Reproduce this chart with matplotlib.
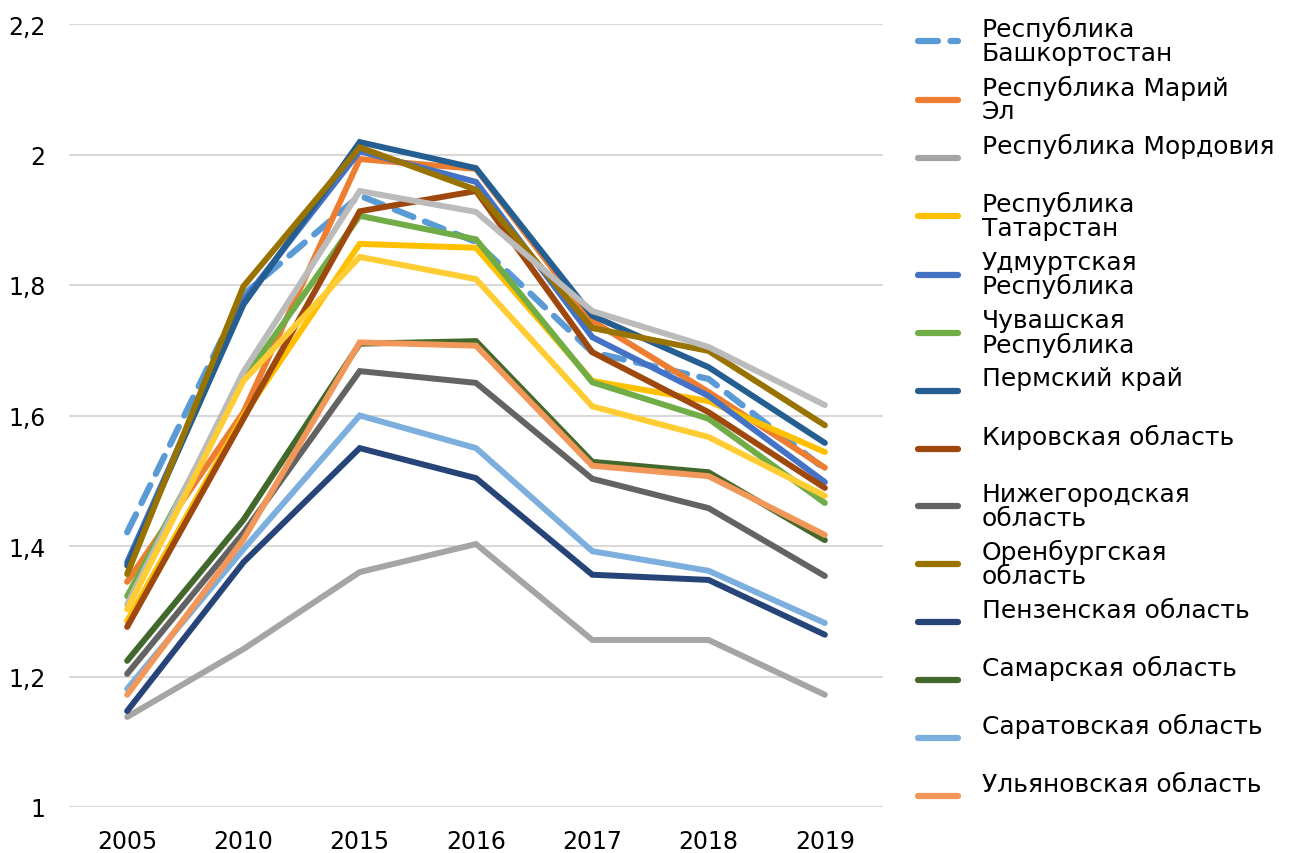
import matplotlib.pyplot as plt
from matplotlib.ticker import FuncFormatter

plt.rcParams["font.family"] = ["DejaVu Sans"]

years = ["2005", "2010", "2015", "2016", "2017", "2018", "2019"]

bashkortostan = [1.421, 1.785, 1.937, 1.866, 1.697, 1.656, 1.518]
mari_el = [1.345, 1.605, 1.993, 1.978, 1.745, 1.636, 1.520]
mordovia = [1.138, 1.242, 1.360, 1.403, 1.256, 1.256, 1.172]
tatarstan = [1.285, 1.600, 1.863, 1.857, 1.653, 1.622, 1.544]
udmurtia = [1.375, 1.776, 2.005, 1.958, 1.720, 1.630, 1.498]
chuvashia = [1.323, 1.655, 1.906, 1.870, 1.651, 1.595, 1.466]
perm = [1.370, 1.770, 2.019, 1.979, 1.753, 1.674, 1.558]
kirov = [1.276, 1.595, 1.913, 1.944, 1.697, 1.605, 1.489]
nizhny = [1.204, 1.420, 1.668, 1.650, 1.503, 1.458, 1.354]
orenburg = [1.357, 1.798, 2.011, 1.946, 1.734, 1.699, 1.585]
penza = [1.147, 1.375, 1.550, 1.504, 1.356, 1.348, 1.264]
samara = [1.224, 1.440, 1.710, 1.714, 1.529, 1.513, 1.409]
saratov = [1.181, 1.395, 1.600, 1.550, 1.392, 1.362, 1.282]
ulyanovsk = [1.172, 1.410, 1.712, 1.707, 1.523, 1.507, 1.417]
# two more series drawn on the chart but not listed in the legend
extra_gray = [1.310, 1.667, 1.944, 1.912, 1.760, 1.705, 1.616]
extra_yellow = [1.303, 1.653, 1.843, 1.809, 1.614, 1.567, 1.477]

labels = [
    "Республика\nБашкортостан",
    "Республика Марий\nЭл",
    "Республика Мордовия\n",
    "Республика\nТатарстан",
    "Удмуртская\nРеспублика",
    "Чувашская\nРеспублика",
    "Пермский край\n",
    "Кировская область\n",
    "Нижегородская\nобласть",
    "Оренбургская\nобласть",
    "Пензенская область\n",
    "Самарская область\n",
    "Саратовская область\n",
    "Ульяновская область\n",
    "_extra1",
    "_extra2",
]
series = [bashkortostan, mari_el, mordovia, tatarstan, udmurtia, chuvashia,
          perm, kirov, nizhny, orenburg, penza, samara, saratov, ulyanovsk,
          extra_gray, extra_yellow]
colors = ["#5B9BD5", "#ED7D31", "#A5A5A5", "#FFC000", "#4472C4", "#70AD47",
          "#255E91", "#9E480E", "#636363", "#997300", "#264478", "#43682B",
          "#7CAFDD", "#F1975A", "#BBBBBB", "#FFCD33"]

fig = plt.figure(figsize=(12.93, 8.54), dpi=100)
ax = fig.add_axes([69 / 1293, 1 - 808 / 854, (883 - 69) / 1293, (808 - 25) / 854])

x = range(len(years))
for vals, lab, col in zip(series, labels, colors):
    if lab.startswith("Республика\nБаш"):
        ax.plot(x, vals, color=col, lw=4.5, label=lab,
                dashes=(3.2, 2.0), dash_capstyle="round", solid_capstyle="round")
    else:
        ax.plot(x, vals, color=col, lw=4.3, label=lab,
                solid_capstyle="round", solid_joinstyle="miter")

ax.set_xlim(-0.5, 6.5)
ax.set_ylim(1, 2.2)
ax.set_xticks(list(x))
ax.set_xticklabels(years)
ax.set_yticks([1, 1.2, 1.4, 1.6, 1.8, 2.0, 2.2])
ax.yaxis.set_major_formatter(FuncFormatter(lambda v, p: f"{v:g}".replace(".", ",")))
ax.grid(axis="y", color="#D9D9D9", lw=1.5)
ax.set_axisbelow(True)
for s in ax.spines.values():
    s.set_visible(False)
ax.tick_params(axis="both", length=0, labelsize=17, colors="#000000")
ax.tick_params(axis="y", pad=17)
ax.tick_params(axis="x", pad=16)

leg = ax.legend(
    loc="upper left",
    bbox_to_anchor=(918 / 1293, 1 - 17 / 854),
    bbox_transform=fig.transFigure,
    frameon=False,
    fontsize=18,
    borderpad=0,
    borderaxespad=0,
    handlelength=1.6,
    handletextpad=0.95,
    labelspacing=0.385,
)
for t in leg.get_texts():
    t.set_linespacing(0.98)
for h in leg.get_lines():
    h.set_linewidth(4.5)

fig.savefig("out.png", dpi=100)
